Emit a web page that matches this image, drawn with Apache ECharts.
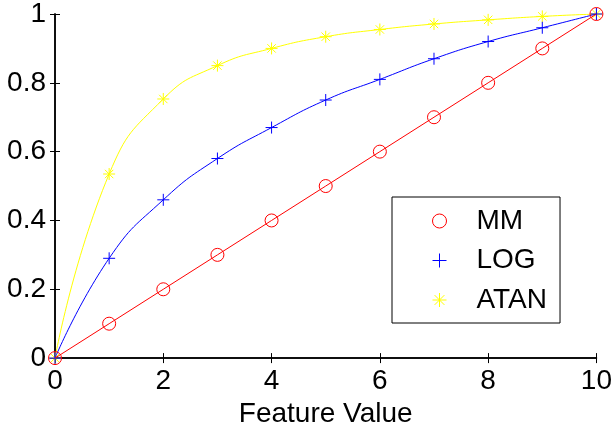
<!DOCTYPE html>
<html>
<head>
<meta charset="utf-8">
<script src="https://cdn.jsdelivr.net/npm/echarts@6/dist/echarts.min.js"></script>
<style>
  html, body { margin: 0; padding: 0; background: #fff; }
  #chart { width: 615px; height: 433px; }
</style>
</head>
<body>
<div id="chart"></div>
<script>
// feature values 0..10 with the three normalisations
const featureValues = [0, 1, 2, 3, 4, 5, 6, 7, 8, 9, 10];
const mmValues = [0, 0.1, 0.2, 0.3, 0.4, 0.5, 0.6, 0.7, 0.8, 0.9, 1];
const logValues = [0, 0.29, 0.46, 0.58, 0.67, 0.75, 0.81, 0.87, 0.92, 0.96, 1];
const atanValues = [0, 0.535, 0.753, 0.85, 0.9, 0.934, 0.955, 0.971, 0.983, 0.993, 1];
const seriesNames = ['MM', 'LOG', 'ATAN'];

const FONT = 'Liberation Sans';
const plusIcon = 'path://M5,0L5,10M0,5L10,5';
const starIcon = 'path://M5,0L5,10M0,5L10,5M1.5,1.5L8.5,8.5M1.5,8.5L8.5,1.5';

function pairs(ys) {
  return featureValues.map((x, i) => [x, ys[i]]);
}

const chart = echarts.init(document.getElementById('chart'));

const tickStyle = { inside: true, length: 5, lineStyle: { color: '#000', width: 1 } };
const lineAxis = { lineStyle: { color: '#000', width: 1.5 } };

const option = {
  animation: false,
  backgroundColor: '#fff',
  grid: { left: 55, right: 16, top: 13, bottom: 73 },
  xAxis: [{
    type: 'value', min: 0, max: 10, interval: 2,
    axisLine: lineAxis,
    axisTick: tickStyle,
    splitLine: { show: false },
    axisLabel: { color: '#000', fontFamily: FONT, fontSize: 28, margin: 9 },
    name: 'Feature Value',
    nameLocation: 'middle',
    nameGap: 41,
    nameTextStyle: { color: '#000', fontFamily: FONT, fontSize: 28 }
  }, {
    type: 'value', min: 0, max: 10, interval: 2, position: 'top',
    axisLine: lineAxis, axisTick: tickStyle,
    axisLabel: { show: false }, splitLine: { show: false }
  }],
  yAxis: [{
    type: 'value', min: 0, max: 1, interval: 0.2,
    axisLine: { show: true, lineStyle: { color: '#000', width: 1.5 } },
    axisTick: tickStyle,
    splitLine: { show: false },
    axisLabel: { color: '#000', fontFamily: FONT, fontSize: 28, margin: 9 }
  }, {
    type: 'value', min: 0, max: 1, interval: 0.2, position: 'right',
    axisLine: { show: true, lineStyle: { color: '#000', width: 1.5 } },
    axisTick: tickStyle,
    axisLabel: { show: false }, splitLine: { show: false }
  }],
  legend: {
    orient: 'vertical',
    left: 392, top: 197,
    padding: [10, 13, 9, 38],
    backgroundColor: '#fff',
    borderColor: '#000', borderWidth: 1,
    itemWidth: 14, itemHeight: 14,
    itemGap: 11.5,
    textStyle: { color: '#000', fontFamily: FONT, fontSize: 28, lineHeight: 28, padding: [0, 0, 0, 25] },
    data: [
      { name: 'MM', icon: 'circle', itemStyle: { color: 'none', borderColor: '#ff0000', borderWidth: 1 } },
      { name: 'LOG', icon: plusIcon, itemStyle: { color: 'none', borderColor: '#0000ff', borderWidth: 1 } },
      { name: 'ATAN', icon: starIcon, itemStyle: { color: 'none', borderColor: '#ffff00', borderWidth: 1 } }
    ]
  },
  series: [{
    name: seriesNames[0], type: 'line', data: pairs(mmValues),
    symbol: 'circle', symbolSize: 13, showAllSymbol: true,
    lineStyle: { color: '#ff0000', width: 1 },
    itemStyle: { color: 'none', borderColor: '#ff0000', borderWidth: 1 },
    z: 4
  }, {
    name: seriesNames[1], type: 'line', data: pairs(logValues),
    smooth: 0.5,
    symbol: plusIcon, symbolSize: 12, showAllSymbol: true,
    lineStyle: { color: '#0000ff', width: 1 },
    itemStyle: { color: 'none', borderColor: '#0000ff', borderWidth: 1 },
    z: 3
  }, {
    name: seriesNames[2], type: 'line', data: pairs(atanValues),
    smooth: 0.5,
    symbol: starIcon, symbolSize: 12, showAllSymbol: true,
    lineStyle: { color: '#ffff00', width: 1 },
    itemStyle: { color: 'none', borderColor: '#ffff00', borderWidth: 1 },
    z: 2
  }]
};

chart.setOption(option);
</script>
</body>
</html>
